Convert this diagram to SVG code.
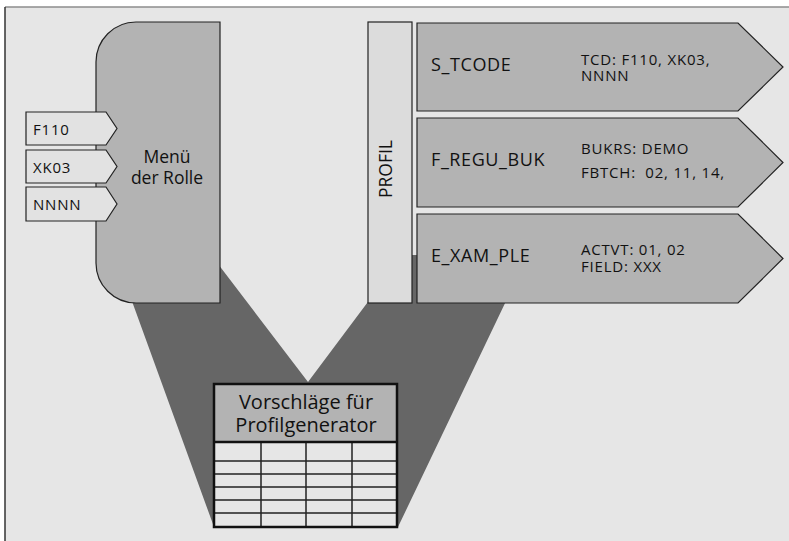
<svg xmlns="http://www.w3.org/2000/svg" width="789" height="541" viewBox="0 0 789 541">
  <style>
    text { font-family: "Open Sans", "Noto Sans", "DejaVu Sans", sans-serif; fill: #111; }
    .edge { stroke: #222; stroke-width: 1.2; }
    .mid { fill: #b3b3b3; }
    .light { fill: #e2e2e2; }
    .t14 { font-size: 15px; letter-spacing: 0.8px; }
    .t17 { font-size: 17.5px; }
    .t18 { font-size: 18px; letter-spacing: 0.6px; }
    .grid { stroke: #222; stroke-width: 1.5; fill: none; }
  </style>

  <!-- page -->
  <rect x="0" y="0" width="789" height="541" fill="#ffffff"/>
  <rect x="5" y="7" width="784" height="534" fill="#e6e6e6"/>
  <line x1="5" y1="7" x2="789" y2="7" stroke="#8c8c8c" stroke-width="1.5"/>
  <line x1="5" y1="7" x2="5" y2="541" stroke="#333" stroke-width="1.5"/>

  <!-- connectors: funnel from menu and profile into the proposal table -->
  <g id="connectors">
    <polygon points="117,260 214,527 398,527 528,255 403,255 308,382 215,260" fill="#666666"/>
  </g>

  <!-- role menu -->
  <g id="menu">
    <path class="edge mid" d="M136,22 H220 V303 H136 A40,40 0 0 1 96,263 V62 A40,40 0 0 1 136,22 Z"/>
    <text class="t17" x="167" y="163" text-anchor="middle">Menü</text>
    <text class="t17" x="167" y="184" text-anchor="middle">der Rolle</text>
  </g>

  <g id="tag-f110">
    <polygon class="edge light" points="26,112 106,112 117,128.5 106,145 26,145"/>
    <text class="t14" x="33" y="135">F110</text>
  </g>
  <g id="tag-xk03">
    <polygon class="edge light" points="26,150 106,150 117,166.5 106,183 26,183"/>
    <text class="t14" x="33" y="173">XK03</text>
  </g>
  <g id="tag-nnnn">
    <polygon class="edge light" points="26,187 106,187 117,204 106,221 26,221"/>
    <text class="t14" x="33" y="210">NNNN</text>
  </g>

  <!-- profile bar -->
  <g id="profil">
    <rect class="edge" x="368" y="22" width="44" height="281" fill="#dcdcdc"/>
    <text class="t17" transform="translate(392,169) rotate(-90)" text-anchor="middle">PROFIL</text>
  </g>

  <!-- authorization objects -->
  <g id="obj-s-tcode">
    <polygon class="edge mid" points="417,23 738,23 783,67 738,111 417,111"/>
    <text class="t18" x="431" y="71">S_TCODE</text>
    <text class="t14" x="581" y="65">TCD: F110, XK03,</text>
    <text class="t14" x="581" y="81">NNNN</text>
  </g>
  <g id="obj-f-regu-buk">
    <polygon class="edge mid" points="417,118 738,118 783,162.5 738,207 417,207"/>
    <text class="t18" x="431" y="166">F_REGU_BUK</text>
    <text class="t14" x="581" y="154">BUKRS: DEMO</text>
    <text class="t14" x="581" y="178" xml:space="preserve">FBTCH:  02, 11, 14,</text>
  </g>
  <g id="obj-e-xam-ple">
    <polygon class="edge mid" points="417,214 738,214 783,258.5 738,303 417,303"/>
    <text class="t18" x="431" y="262">E_XAM_PLE</text>
    <text class="t14" x="581" y="255">ACTVT: 01, 02</text>
    <text class="t14" x="581" y="272">FIELD: XXX</text>
  </g>

  <!-- proposal table -->
  <g id="table">
    <rect x="214" y="384" width="183" height="58" fill="#b3b3b3"/>
    <rect x="214" y="442" width="183" height="85" fill="#e6e6e6"/>
    <text x="306" y="409" font-size="20" text-anchor="middle">Vorschläge für</text>
    <text x="306" y="432" font-size="20" text-anchor="middle">Profilgenerator</text>
    <path class="grid" d="M214,461 H397 M214,474 H397 M214,487 H397 M214,500 H397 M214,513 H397 M261,442 V527 M306,442 V527 M352,442 V527"/>
    <line x1="214" y1="442" x2="397" y2="442" stroke="#111" stroke-width="2.5"/>
    <rect x="214" y="384" width="183" height="143" fill="none" stroke="#111" stroke-width="2.5"/>
  </g>
</svg>
